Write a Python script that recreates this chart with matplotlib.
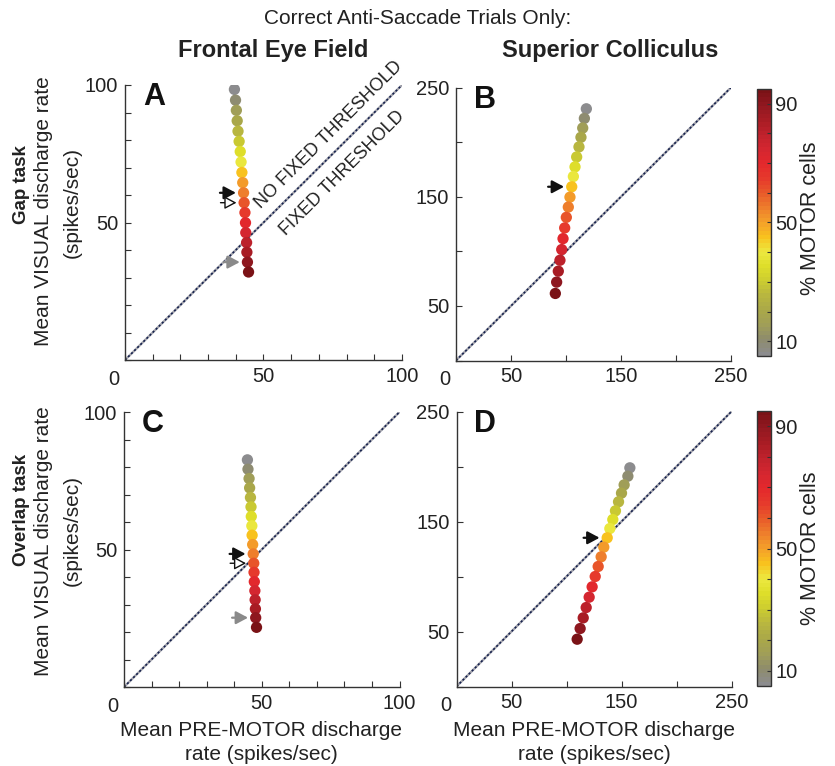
import matplotlib
matplotlib.use('Agg')
import matplotlib.pyplot as plt
from matplotlib import font_manager
from matplotlib.colors import LinearSegmentedColormap, Normalize
from matplotlib.cm import ScalarMappable

# ---------------- data ----------------
pct_motor = [5, 10, 15, 20, 25, 30, 35, 40, 45, 50, 55, 60, 65, 70, 75, 80, 85, 90, 95]

fef_gap_x = [39.5, 39.9, 40.2, 40.5, 40.8, 41.2, 41.6, 41.9, 42.2, 42.5, 42.8, 43.0, 43.3, 43.5, 43.6, 43.9, 44.0, 44.2, 44.6]
fef_gap_y = [98.4, 94.5, 90.8, 87.0, 83.2, 79.5, 75.8, 72.0, 68.2, 64.5, 60.8, 57.2, 53.6, 49.9, 46.3, 42.7, 39.2, 35.6, 32.0]

sc_gap_x = [118.5, 116.7, 115.2, 113.6, 111.8, 109.7, 108.2, 106.7, 105.2, 103.6, 102.1, 100.3, 98.8, 97.3, 96.1, 94.5, 93.0, 91.5, 90.3]
sc_gap_y = [230.5, 221.7, 212.9, 204.4, 195.6, 186.4, 177.3, 168.5, 159.1, 149.6, 140.5, 131.1, 121.4, 111.6, 101.6, 91.8, 81.8, 71.8, 61.4]

fef_ovl_x = [44.8, 45.0, 45.4, 45.6, 45.9, 46.1, 46.2, 46.4, 46.5, 46.7, 46.9, 47.1, 47.2, 47.3, 47.5, 47.6, 47.7, 47.8, 48.1]
fef_ovl_y = [82.6, 79.2, 75.8, 72.4, 68.9, 65.5, 62.0, 58.6, 55.2, 51.8, 48.4, 45.0, 41.7, 38.3, 35.0, 31.7, 28.4, 25.2, 21.7]

sc_ovl_x = [157.6, 155.8, 152.4, 150.0, 147.3, 144.5, 142.1, 139.4, 137.0, 133.9, 131.5, 128.8, 126.1, 123.3, 120.6, 117.9, 115.2, 112.4, 109.7]
sc_ovl_y = [198.8, 191.2, 183.3, 175.8, 167.9, 159.7, 151.8, 143.6, 135.2, 126.7, 117.9, 109.1, 100.0, 90.6, 81.2, 71.8, 62.4, 52.7, 43.0]

# arrows: index of the marked point for each arrow kind
fef_arrows = {'black': 10, 'open': 11, 'gray': 17}
sc_arrows = {'black': 8}

fef_ticks = [0, 10, 20, 30, 40, 50, 60, 70, 80, 90, 100]
fef_labeled = [50, 100]
sc_ticks = [0, 50, 100, 150, 200, 250]
sc_labeled = [50, 150, 250]
cbar_ticks = [10, 20, 30, 40, 50, 60, 70, 80, 90]
cbar_labeled = [10, 50, 90]

# ---------------- style ----------------
names = {f.name for f in font_manager.fontManager.ttflist}
HAS_NARROW = 'Liberation Sans Narrow' in names
plt.rcParams['font.family'] = ['Liberation Sans', 'DejaVu Sans']
NARROW = ['Liberation Sans Narrow', 'Liberation Sans', 'DejaVu Sans'] if HAS_NARROW else ['Liberation Sans', 'DejaVu Sans']
TICK_FS = 16.5 if HAS_NARROW else 14.5
ROW_FS = 16 if HAS_NARROW else 13.5
THR_FS = 15.5 if HAS_NARROW else 13
TXT = '#222222'

cmap = LinearSegmentedColormap.from_list('motor', [
    (0.000, '#8c8c8e'), (0.056, '#8e8c6c'), (0.111, '#a09e58'), (0.167, '#aaa848'),
    (0.222, '#b8b640'), (0.278, '#cccc30'), (0.333, '#dede2a'), (0.389, '#ece840'),
    (0.444, '#f8c21e'), (0.500, '#f4a02a'), (0.556, '#ee7e2c'), (0.611, '#e85a2a'),
    (0.667, '#e63a2c'), (0.722, '#e4282c'), (0.778, '#d42630'), (0.833, '#c0222c'),
    (0.889, '#a81c24'), (0.944, '#921820'), (1.000, '#7a1216')], N=64)
norm = Normalize(5, 95)
point_colors = [cmap(norm(v)) for v in pct_motor]

W, H = 835, 766
fig = plt.figure(figsize=(W / 100, H / 100), dpi=100)


def rect(l, t, r, b):
    return [l / W, 1 - b / H, (r - l) / W, (b - t) / H]


def setup(ax, lim, ticks, labeled):
    ax.set_xlim(0, lim)
    ax.set_ylim(0, lim)
    for s in ('top', 'right'):
        ax.spines[s].set_visible(False)
    for s in ('left', 'bottom'):
        ax.spines[s].set_color('#333333')
        ax.spines[s].set_linewidth(1.0)
    labels = [str(v) if v in labeled else '' for v in ticks]
    ax.set_xticks(ticks)
    ax.set_yticks(ticks)
    ax.set_xticklabels(labels)
    ax.set_yticklabels(labels)
    ax.tick_params(direction='in', length=4, width=0.8, pad=5, labelsize=TICK_FS,
                   colors='#333333', labelcolor=TXT)
    for lb in ax.get_xticklabels() + ax.get_yticklabels():
        lb.set_fontfamily(NARROW)
    ax.annotate('0', xy=(0, 0), xycoords='axes fraction', xytext=(-8, -14),
                textcoords='offset points', ha='center', va='center',
                fontsize=TICK_FS, family=NARROW, color=TXT)
    ax.plot([0, lim], [0, lim], color='#a8a8b0', lw=1.7, zorder=1, solid_capstyle='butt')
    ax.plot([0, lim], [0, lim], color='#16224e', lw=1.2, ls=(0, (1.3, 1.3)), zorder=2)


def arrows(ax, xs, ys, spec):
    styles = {
        'black': dict(arrowstyle='-|>,head_length=0.6,head_width=0.32', color='#111111', lw=1.6),
        'open': dict(arrowstyle='-|>,head_length=0.6,head_width=0.32', fc='white', ec='#111111', lw=1.0),
        'gray': dict(arrowstyle='-|>,head_length=0.6,head_width=0.32', color='#8a8a8a', lw=1.6),
    }
    for kind, i in spec.items():
        props = dict(styles[kind], shrinkA=0, shrinkB=5.5, mutation_scale=12)
        ax.annotate('', xy=(xs[i], ys[i]), xytext=(-17, 0), textcoords='offset points',
                    arrowprops=props, zorder=4)


panels = [
    ('A', rect(125, 85, 402, 360), 100, fef_ticks, fef_labeled, fef_gap_x, fef_gap_y, fef_arrows),
    ('B', rect(456, 87.5, 731, 360.5), 250, sc_ticks, sc_labeled, sc_gap_x, sc_gap_y, sc_arrows),
    ('C', rect(124, 412, 399.5, 687), 100, fef_ticks, fef_labeled, fef_ovl_x, fef_ovl_y, fef_arrows),
    ('D', rect(456.5, 411.5, 731.5, 686.5), 250, sc_ticks, sc_labeled, sc_ovl_x, sc_ovl_y, sc_arrows),
]

axes = {}
for letter, r, lim, ticks, labeled, xs, ys, arr in panels:
    ax = fig.add_axes(r)
    setup(ax, lim, ticks, labeled)
    ax.scatter(xs, ys, c=point_colors, s=66, edgecolors='none', zorder=3)
    arrows(ax, xs, ys, arr)
    ax.text(0.065, 1.01, letter, transform=ax.transAxes, fontsize=22, fontweight='bold',
            ha='left', va='top', color='#111111')
    axes[letter] = ax

# threshold annotations in panel A
axA = axes['A']
axA.text(73.5, 82.0, 'NO FIXED THRESHOLD', rotation=45, rotation_mode='anchor',
         ha='center', va='center', fontsize=THR_FS, family=NARROW, color=TXT)
axA.text(78.5, 68.0, 'FIXED THRESHOLD', rotation=45, rotation_mode='anchor',
         ha='center', va='center', fontsize=THR_FS, family=NARROW, color=TXT)

# colorbars
sm = ScalarMappable(norm=norm, cmap=cmap)
for r, cy in ((rect(757, 89, 771, 356), 218), (rect(757, 411, 771, 686), 548)):
    cax = fig.add_axes(r)
    cb = fig.colorbar(sm, cax=cax)
    cb.outline.set_linewidth(1.0)
    cb.outline.set_edgecolor('#333333')
    cb.set_ticks(cbar_ticks)
    cb.set_ticklabels([str(v) if v in cbar_labeled else '' for v in cbar_ticks])
    cax.tick_params(direction='in', length=3, width=0.8, pad=3, labelsize=TICK_FS,
                    colors='#333333', labelcolor=TXT)
    for lb in cax.get_yticklabels():
        lb.set_fontfamily(NARROW)
    fig.text(811 / W, 1 - cy / H, '% MOTOR cells', rotation=90, ha='center', va='center',
             fontsize=15.5, color=TXT)

# titles and labels
fig.text(418 / W, 1 - 19 / H, 'Correct Anti-Saccade Trials Only:', ha='center', va='center',
         fontsize=15, color=TXT)
fig.text(273 / W, 1 - 50 / H, 'Frontal Eye Field', ha='center', va='center',
         fontsize=17, fontweight='bold', color=TXT)
fig.text(610 / W, 1 - 50 / H, 'Superior Colliculus', ha='center', va='center',
         fontsize=17, fontweight='bold', color=TXT)

for row_label, cy_row, cy1, cy2 in (('Gap task', 185, 211, 202), ('Overlap task', 510, 541, 530)):
    fig.text(22 / W, 1 - cy_row / H, row_label, rotation=90, ha='center', va='center',
             fontsize=ROW_FS, fontweight='bold', family=NARROW, color=TXT)
    fig.text(44 / W, 1 - cy1 / H, 'Mean VISUAL discharge rate', rotation=90, ha='center',
             va='center', fontsize=15, color=TXT)
    fig.text(72 / W, 1 - cy2 / H, '(spikes/sec)', rotation=90, ha='center', va='center',
             fontsize=15, color=TXT)

for cx in (261, 594):
    fig.text(cx / W, 1 - 736 / H, 'Mean PRE-MOTOR discharge', ha='center', va='baseline',
             fontsize=15, color=TXT)
    fig.text(cx / W, 1 - 760 / H, 'rate (spikes/sec)', ha='center', va='baseline',
             fontsize=15, color=TXT)

fig.savefig('out.png', dpi=100)
